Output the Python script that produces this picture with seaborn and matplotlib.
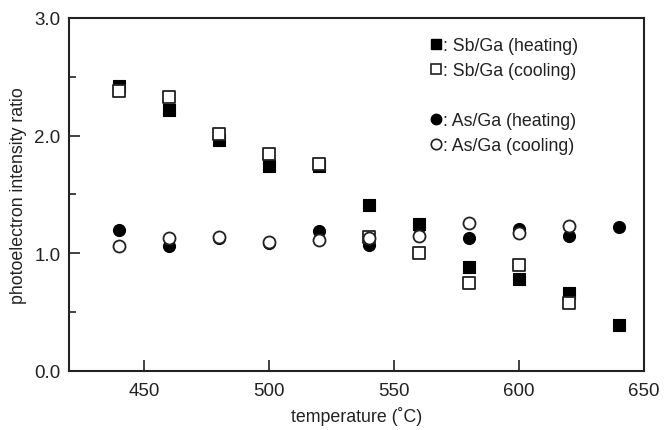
import matplotlib
matplotlib.use("Agg")
import matplotlib.pyplot as plt
from matplotlib.lines import Line2D
from matplotlib.ticker import MultipleLocator
import seaborn as sns
import pandas as pd

temps = [440, 460, 480, 500, 520, 540, 560, 580, 600, 620, 640]
temps_cool = [440, 460, 480, 500, 520, 540, 560, 580, 600, 620]
sb_heating = [2.42, 2.22, 1.96, 1.74, 1.745, 1.41, 1.25, 0.88, 0.78, 0.66, 0.39]
sb_cooling = [2.38, 2.33, 2.01, 1.84, 1.76, 1.14, 1.00, 0.75, 0.90, 0.58]
as_heating = [1.20, 1.06, 1.13, 1.09, 1.19, 1.07, 1.22, 1.13, 1.21, 1.15, 1.22]
as_cooling = [1.06, 1.13, 1.14, 1.10, 1.11, 1.13, 1.15, 1.26, 1.17, 1.23]

sns.set_theme(style="ticks")
plt.rcParams['font.family'] = ['Liberation Sans', 'DejaVu Sans']

fig = plt.figure(figsize=(6.69, 4.31), dpi=100)
ax = fig.add_axes([0.103, 0.137, 0.860, 0.819])

ms = 75
ec = "#222222"
fs = 12.8
sns.scatterplot(x=temps, y=sb_heating, marker="s", s=ms, color="black",
                edgecolor="black", linewidth=0.8, ax=ax, zorder=3)
sns.scatterplot(x=temps, y=as_heating, marker="o", s=ms, color="black",
                edgecolor="black", linewidth=0.8, ax=ax, zorder=3)
sns.scatterplot(x=temps_cool, y=sb_cooling, marker="s", s=ms, color="white",
                edgecolor=ec, linewidth=1.3, ax=ax, zorder=4)
sns.scatterplot(x=temps_cool, y=as_cooling, marker="o", s=ms, color="white",
                edgecolor=ec, linewidth=1.3, ax=ax, zorder=4)

ax.set_xlim(420, 650)
ax.set_ylim(0, 3.0)
ax.set_xticks([450, 500, 550, 600, 650])
ax.yaxis.set_major_locator(MultipleLocator(1.0))
ax.yaxis.set_minor_locator(MultipleLocator(0.5))
ax.yaxis.set_major_formatter(matplotlib.ticker.FormatStrFormatter("%.1f"))
ax.tick_params(axis="both", which="major", direction="in", length=8, width=1.2,
               labelsize=13.5, color="#222222", labelcolor="#222222", pad=6)
ax.tick_params(axis="y", which="minor", direction="in", length=5, width=1.2,
               color="#222222")
ax.tick_params(axis="x", which="major", pad=8)
for sp in ax.spines.values():
    sp.set_visible(True)
    sp.set_linewidth(1.5)
    sp.set_color("#222222")

ax.set_xlabel("temperature (˚C)", fontsize=fs, color="#222222", labelpad=5)
ax.set_ylabel("photoelectron intensity ratio", fontsize=fs, color="#222222", labelpad=5)

handles = [
    Line2D([], [], marker="s", ls="none", markersize=7.5, markerfacecolor="black", markeredgecolor="black"),
    Line2D([], [], marker="s", ls="none", markersize=7.5, markerfacecolor="white", markeredgecolor=ec, markeredgewidth=1.2),
    Line2D([], [], ls="none"),
    Line2D([], [], marker="o", ls="none", markersize=7.5, markerfacecolor="black", markeredgecolor="black"),
    Line2D([], [], marker="o", ls="none", markersize=7.5, markerfacecolor="white", markeredgecolor=ec, markeredgewidth=1.2),
]
labels = [": Sb/Ga (heating)", ": Sb/Ga (cooling)", "", ": As/Ga (heating)", ": As/Ga (cooling)"]
leg = ax.legend(handles, labels, loc="upper left", bbox_to_anchor=(0.617, 0.967),
                frameon=False, handlelength=0.6, handletextpad=0.1, labelspacing=0.45,
                fontsize=fs, borderaxespad=0)
for t in leg.get_texts():
    t.set_color("#222222")

fig.savefig("out.png", dpi=100)
